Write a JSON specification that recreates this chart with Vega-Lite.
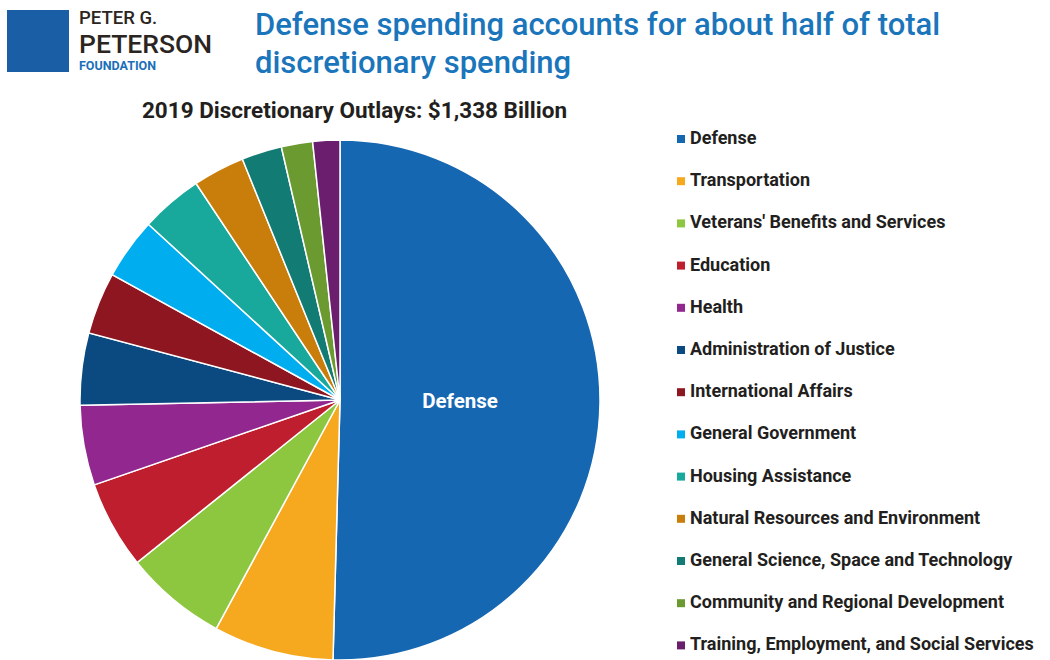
{
  "$schema": "https://vega.github.io/schema/vega-lite/v6.json",
  "padding": {"left": 7, "top": 9, "right": 0, "bottom": 0},
  "background": "white",
  "config": {"view": {"stroke": null}, "font": "Roboto"},
  "spacing": 20,
  "vconcat": [
    {
      "spacing": 10,
      "hconcat": [
        {
          "width": 62,
          "height": 62,
          "data": {"values": [{"k": "logo"}]},
          "mark": {"type": "rect", "color": "#1a5fa6"}
        },
        {
          "width": 166,
          "height": 62,
          "data": {"values": [
            {"line": "PETER G.", "part": "a"},
            {"line": "PETERSON", "part": "b"},
            {"line": "FOUNDATION", "part": "c"}
          ]},
          "layer": [
            {
              "transform": [{"filter": "datum.part === 'a'"}],
              "mark": {"type": "text", "align": "left", "baseline": "alphabetic", "dx": -83, "dy": -17, "fontSize": 18.5, "fontWeight": 500, "color": "#2b2521"},
              "encoding": {"text": {"field": "line"}}
            },
            {
              "transform": [{"filter": "datum.part === 'b'"}],
              "mark": {"type": "text", "align": "left", "baseline": "alphabetic", "dx": -83, "dy": 12, "fontSize": 26.5, "fontWeight": 500, "color": "#2b2521"},
              "encoding": {"text": {"field": "line"}}
            },
            {
              "transform": [{"filter": "datum.part === 'c'"}],
              "mark": {"type": "text", "align": "left", "baseline": "alphabetic", "dx": -83, "dy": 29, "fontSize": 12.5, "fontWeight": "bold", "color": "#1a6fb8"},
              "encoding": {"text": {"field": "line"}}
            }
          ]
        },
        {
          "width": 780,
          "height": 62,
          "data": {"values": [
            {"line": "Defense spending accounts for about half of total", "part": "a"},
            {"line": "discretionary spending", "part": "b"}
          ]},
          "layer": [
            {
              "transform": [{"filter": "datum.part === 'a'"}],
              "mark": {"type": "text", "align": "left", "baseline": "alphabetic", "dx": -390, "dy": -6, "fontSize": 31, "fontWeight": 500, "color": "#1a75bb"},
              "encoding": {"text": {"field": "line"}}
            },
            {
              "transform": [{"filter": "datum.part === 'b'"}],
              "mark": {"type": "text", "align": "left", "baseline": "alphabetic", "dx": -390, "dy": 32, "fontSize": 31, "fontWeight": 500, "color": "#1a75bb"},
              "encoding": {"text": {"field": "line"}}
            }
          ]
        }
      ]
    },
    {
      "width": 666,
      "height": 520,
      "title": {"text": "2019 Discretionary Outlays: $1,338 Billion", "fontSize": 22.5, "fontWeight": "bold", "color": "#231f20", "anchor": "middle", "dx": 14.5, "offset": 15},
      "data": {"values": [
        {"category": "Defense", "outlays": 675, "rank": 1},
        {"category": "Transportation", "outlays": 100, "rank": 2},
        {"category": "Veterans' Benefits and Services", "outlays": 85, "rank": 3},
        {"category": "Education", "outlays": 73, "rank": 4},
        {"category": "Health", "outlays": 66.5, "rank": 5},
        {"category": "Administration of Justice", "outlays": 60, "rank": 6},
        {"category": "International Affairs", "outlays": 51.5, "rank": 7},
        {"category": "General Government", "outlays": 51, "rank": 8},
        {"category": "Housing Assistance", "outlays": 51.5, "rank": 9},
        {"category": "Natural Resources and Environment", "outlays": 43, "rank": 10},
        {"category": "General Science, Space and Technology", "outlays": 33.5, "rank": 11},
        {"category": "Community and Regional Development", "outlays": 26, "rank": 12},
        {"category": "Training, Employment, and Social Services", "outlays": 22.5, "rank": 13}
      ]},
      "encoding": {
        "theta": {"field": "outlays", "type": "quantitative", "stack": true},
        "order": {"field": "rank", "type": "quantitative"},
        "color": {
          "field": "category",
          "type": "nominal",
          "scale": {
            "domain": ["Defense", "Transportation", "Veterans' Benefits and Services", "Education", "Health", "Administration of Justice", "International Affairs", "General Government", "Housing Assistance", "Natural Resources and Environment", "General Science, Space and Technology", "Community and Regional Development", "Training, Employment, and Social Services"],
            "range": ["#1667b2", "#f6a81f", "#8dc63f", "#be1e2d", "#92278f", "#0b4a80", "#8e1620", "#00aeef", "#18a99c", "#c97e0b", "#127b74", "#6a9a30", "#6b1e6e"]
          },
          "legend": {
            "orient": "none",
            "legendX": 665,
            "legendY": 120,
            "title": null,
            "symbolType": "square",
            "symbolSize": 64,
            "symbolStrokeWidth": 0,
            "labelFontSize": 18,
            "labelFont": "Roboto",
            "labelFontWeight": "bold",
            "labelColor": "#231f20",
            "labelLimit": 400,
            "labelOffset": 0,
            "rowPadding": 24.2
          }
        }
      },
      "layer": [
        {"mark": {"type": "arc", "outerRadius": 260, "stroke": "white", "strokeWidth": 1.5}},
        {
          "mark": {"type": "text", "radius": 120, "fontSize": 20.5, "fontWeight": "bold"},
          "encoding": {
            "color": {"value": "white"},
            "text": {"condition": {"test": "datum.category === 'Defense'", "field": "category"}, "value": ""}
          }
        }
      ]
    }
  ]
}
